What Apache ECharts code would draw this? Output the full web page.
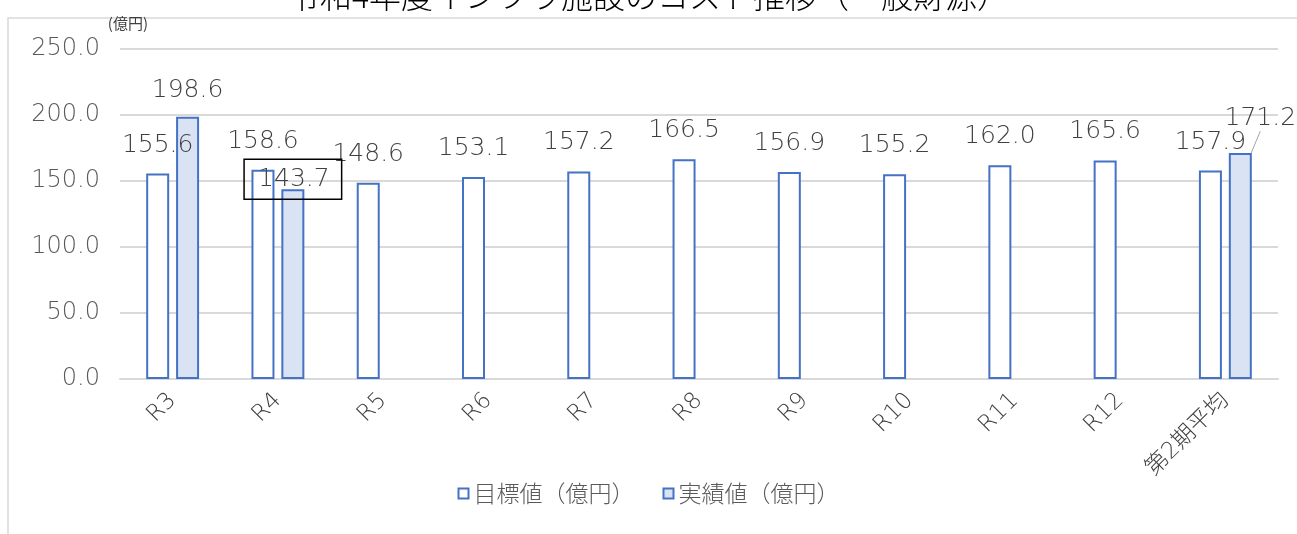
<!DOCTYPE html>
<html>
<head>
<meta charset="utf-8">
<script src="https://cdn.jsdelivr.net/npm/echarts@6/dist/echarts.min.js"></script>
<style>
  html, body { margin: 0; padding: 0; background: #fff; }
  #main { width: 1297px; height: 534px; }
</style>
</head>
<body>
<div id="main"></div>
<script>
const titleText = '令和4年度インフラ施設のコスト推移（一般財源）';
const categories = ['R3', 'R4', 'R5', 'R6', 'R7', 'R8', 'R9', 'R10', 'R11', 'R12', '第2期平均'];
const targetValues = [155.6, 158.6, 148.6, 153.1, 157.2, 166.5, 156.9, 155.2, 162.0, 165.6, 157.9];
const actualValues = [198.6, 143.7, null, null, null, null, null, null, null, null, 171.2];
const yTicks = [0, 50, 100, 150, 200, 250];

const font = '"DejaVu Sans", "Noto Sans CJK JP", sans-serif';
const cjkFont = '"Noto Sans CJK JP", "DejaVu Sans", sans-serif';
const blue = '#4472c4';
const lastIdx = categories.length - 1;

// R4 actual label sits in a box over the bar top, the average one gets a leader line
const actualData = actualValues.map((v, i) => {
  if (v === null) return null;
  if (i === 1) {
    return {
      value: v,
      label: {
        borderColor: '#000', borderWidth: 1.5,
        padding: [8, 12, 7, 14]
      }
    };
  }
  if (i === lastIdx) {
    return { value: v, labelLine: { show: true } };
  }
  return v;
});

const chart = echarts.init(document.getElementById('main'));

chart.setOption({
  animation: false,
  textStyle: { fontFamily: font },
  title: {
    text: titleText,
    left: 'center',
    top: -25,
    textStyle: { fontSize: 32, fontWeight: 300, color: '#000', fontFamily: cjkFont }
  },
  graphic: [{
    type: 'rect',
    shape: { x: 8, y: 18, width: 1400, height: 700 },
    style: { fill: 'none', stroke: '#d9d9d9', lineWidth: 1.5 },
    silent: true
  }],
  legend: {
    bottom: 24,
    left: 'center',
    icon: 'rect',
    itemWidth: 10,
    itemHeight: 10,
    itemGap: 28,
    textStyle: { fontSize: 23, color: '#595959', fontFamily: cjkFont, fontWeight: 300 },
    data: ['目標値（億円）', '実績値（億円）']
  },
  grid: { left: 120, right: 19, top: 49, bottom: 155, containLabel: false },
  xAxis: {
    type: 'category',
    data: categories,
    axisLine: { lineStyle: { color: '#d9d9d9', width: 2 } },
    axisTick: { show: false },
    axisLabel: {
      rotate: 45, fontSize: 23, color: '#404040', margin: 18,
      interval: 0, fontFamily: font, fontWeight: 200
    }
  },
  yAxis: {
    type: 'value',
    min: yTicks[0],
    max: yTicks[yTicks.length - 1],
    interval: 50,
    name: '(億円)',
    nameGap: 18,
    nameTextStyle: { fontSize: 15, color: '#404040', align: 'right', padding: [0, -28, 0, 0], fontFamily: cjkFont },
    axisLine: { show: false },
    axisTick: { show: false },
    splitLine: { lineStyle: { color: '#d9d9d9', width: 2 } },
    axisLabel: {
      fontSize: 24, color: '#595959', margin: 20,
      formatter: v => v.toFixed(1), fontFamily: font, fontWeight: 200
    }
  },
  series: [
    {
      name: '目標値（億円）',
      type: 'bar',
      data: targetValues,
      barWidth: 23,
      barGap: '30%',
      itemStyle: { color: '#ffffff', borderColor: blue, borderWidth: 2 },
      label: {
        show: true, position: 'top', distance: 16,
        fontSize: 25, color: '#404040', fontFamily: font, fontWeight: 200,
        formatter: p => p.value.toFixed(1)
      }
    },
    {
      name: '実績値（億円）',
      type: 'bar',
      data: actualData,
      barWidth: 23,
      barGap: '30%',
      itemStyle: { color: '#dae3f3', borderColor: blue, borderWidth: 2 },
      labelLine: { show: false, lineStyle: { color: '#a6a6a6', width: 1 } },
      labelLayout: p => {
        if (p.dataIndex === 1) return { dy: 24 };
        if (p.dataIndex === lastIdx) return { dx: 20, dy: -8 };
        return {};
      },
      label: {
        show: true, position: 'top', distance: 14,
        fontSize: 25, color: '#404040', fontFamily: font, fontWeight: 200,
        formatter: p => p.value.toFixed(1)
      }
    }
  ]
});
</script>
</body>
</html>
